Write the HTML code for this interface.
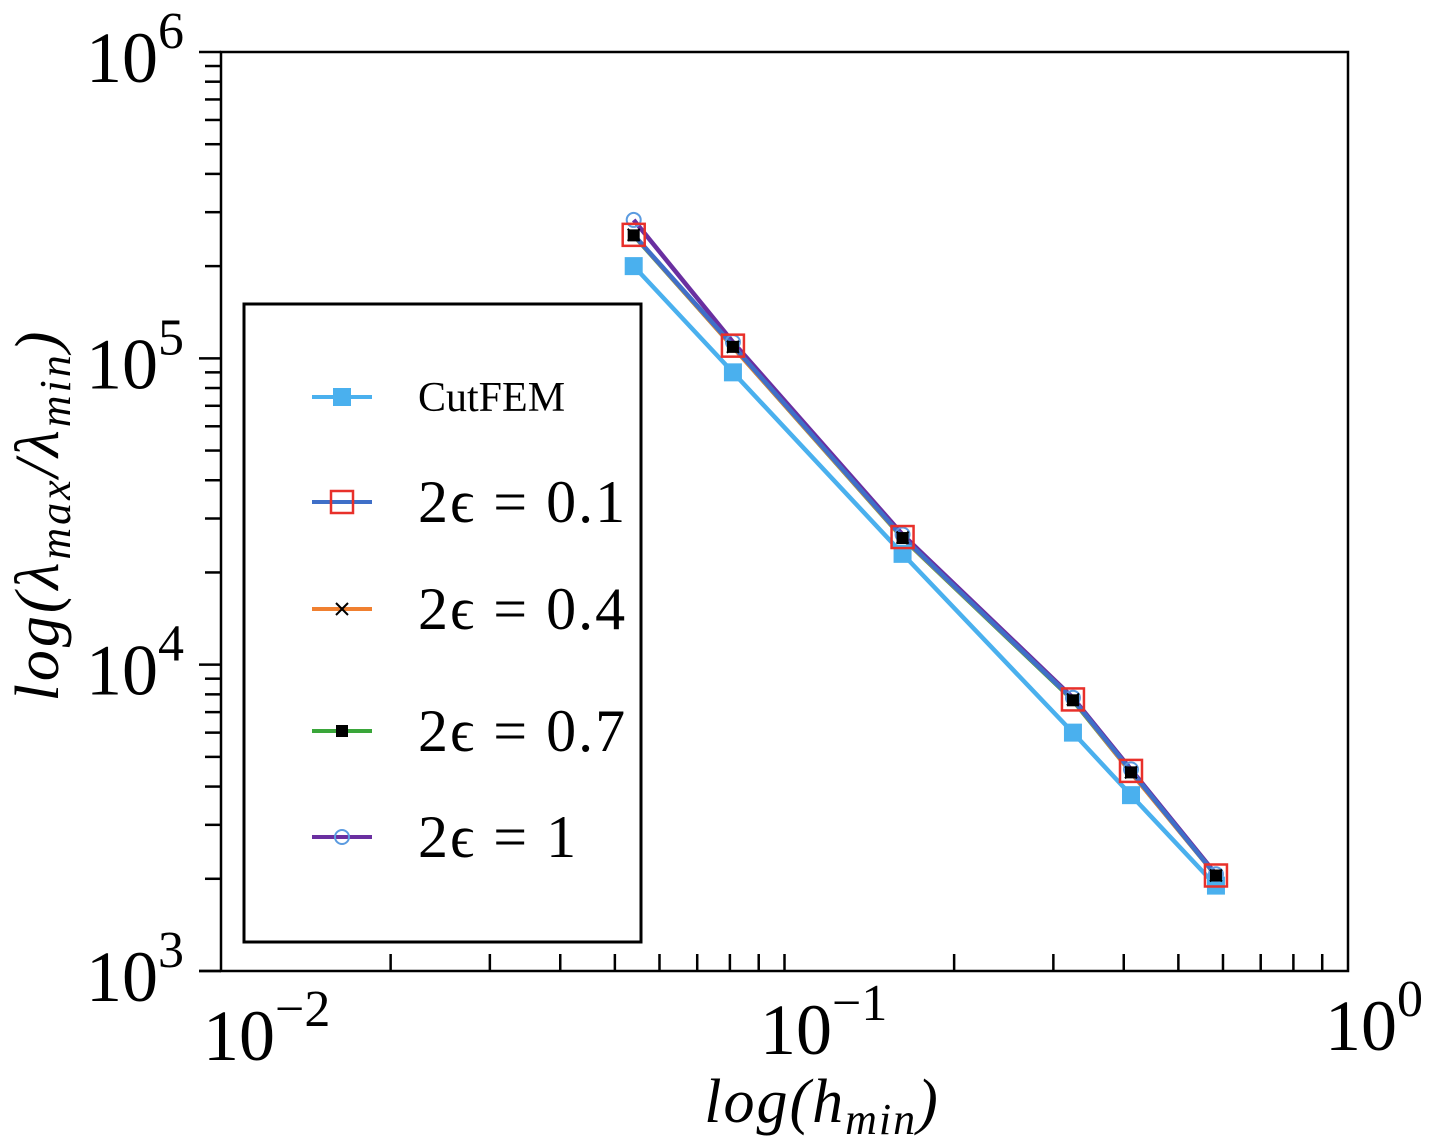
<!DOCTYPE html>
<html><head><meta charset="utf-8"><style>
body{margin:0;background:#fff}
svg{display:block}
text{font-family:"Liberation Serif",serif;fill:#000}
</style></head><body>
<svg id="chart" width="1442" height="1148">
<g id="axes"></g>
<g id="series"></g>
<g id="legend">
<rect x="244" y="304" width="397" height="638" fill="#fff" stroke="#000" stroke-width="3"/>
</g>
</svg>
<script>
const xVals=[0.054,0.081,0.162,0.325,0.412,0.583];
const cutfem=[200000,90000,23000,6000,3750,1900];
const eps01=[253000,110000,26100,7700,4500,2050];
const eps04=[253000,109000,26000,7700,4450,2050];
const eps07=[252000,109000,25900,7650,4450,2050];
const eps1=[283000,113000,26600,7800,4550,2070];
const xTickLabels=["10","10","10"],xTickExp=["−2","−1","0"];
const yTickExp=["3","4","5","6"];
const L=221,R=1348,T=52,B=971;
const X=v=>L+(Math.log10(v)+2)/2*(R-L);
const Y=v=>B-(Math.log10(v)-3)/3*(B-T);
const NS="http://www.w3.org/2000/svg";
function mk(tag,attrs,parent){const e=document.createElementNS(NS,tag);for(const k in attrs)e.setAttribute(k,attrs[k]);parent.appendChild(e);return e;}
const ax=document.getElementById('axes');
let sp=mk('path',{d:`M${L},${T}H${R}V${B}H${L}Z`,fill:'none',stroke:'#000','stroke-width':2.5},ax);


for(let d=3;d<=6;d++){
 for(let m=1;m<=9;m++){
  if(d===6&&m>1)break;
  const y=Y(m*Math.pow(10,d));
  const t=mk('line',{x1:m===1?199:205,x2:L,y1:y,y2:y,stroke:'#000','stroke-width':2.5},ax);
  
  
 }
 const lab=mk('text',{x:86,y:Y(Math.pow(10,d))+30,'font-size':72},ax);
 
 
 lab.textContent='10';
 const sup=mk('tspan',{dy:-34,'font-size':52},lab);sup.textContent=yTickExp[d-3];
}
for(let d=-2;d<=0;d++){
 for(let m=1;m<=9;m++){
  if(d===0&&m>1)break;
  const x=X(m*Math.pow(10,d));
  if(m===1&&d!==-1)continue;
  const t=mk('line',{x1:x,x2:x,y1:B-17,y2:B,stroke:'#000','stroke-width':2.5},ax);
  
  
 }
}
mk('line',{x1:199,x2:L,y1:B,y2:B,stroke:'#000','stroke-width':2.5},ax);
const xl=[[203,1060],[760,1054],[1325,1050]];
xl.forEach((p,i)=>{const lab=mk('text',{x:p[0],y:p[1],'font-size':72},ax);
 
 
 lab.textContent=xTickLabels[i];const s=mk('tspan',{dy:-34,'font-size':52},lab);s.textContent=xTickExp[i];});
let xt=mk('text',{x:822,y:1122,'font-size':62,'text-anchor':'middle','font-style':'italic','letter-spacing':2},ax);


xt.innerHTML='log(h<tspan font-size="44" dy="12">min</tspan><tspan dy="-12">)</tspan>';
let yt=mk('text',{x:0,y:0,'font-size':62,'text-anchor':'middle','font-style':'italic','letter-spacing':3,transform:'translate(58,515) rotate(-90)'},ax);


yt.innerHTML='log(λ<tspan font-size="44" dy="12">max</tspan><tspan dy="-12">/λ</tspan><tspan font-size="44" dy="12">min</tspan><tspan dy="-12">)</tspan>';
const sg=document.getElementById('series');
function line(vals,color,name){const d=vals.map((v,i)=>(i?'L':'M')+X(xVals[i])+','+Y(v)).join('');
 const p=mk('path',{d,fill:'none',stroke:color,'stroke-width':4.5},sg);
 
 }
function marker(type,x,y,g){
 let e;
 if(type==='sq') e=mk('rect',{x:x-9,y:y-9,width:18,height:18,fill:'#4ab0ee'},g);
 else if(type==='osq') e=mk('rect',{x:x-11,y:y-11,width:22,height:22,fill:'none',stroke:'#e8302a','stroke-width':2.5},g);
 else if(type==='x') e=mk('path',{d:`M${x-6},${y-6}L${x+6},${y+6}M${x-6},${y+6}L${x+6},${y-6}`,stroke:'#000','stroke-width':2},g);
 else if(type==='bsq') e=mk('rect',{x:x-6,y:y-6,width:12,height:12,fill:'#000'},g);
 else e=mk('circle',{cx:x,cy:y,r:7,fill:'none',stroke:'#5b9be0','stroke-width':2},g);
 return e;}
line(cutfem,'#4ab0ee','line-cutfem');
line(eps1,'#6a2fa0','line-eps-1');
line(eps07,'#3aa63a','line-eps-0.7');
line(eps04,'#f08030','line-eps-0.4');
line(eps01,'#3f6fc8','line-eps-0.1');
const sets=[[cutfem,'sq','point-cutfem'],[eps1,'o','point-eps-1'],[eps07,'bsq','point-eps-0.7'],[eps04,'x','point-eps-0.4'],[eps01,'osq','point-eps-0.1']];
sets.forEach(s=>s[0].forEach((v,i)=>{const m=marker(s[1],X(xVals[i]),Y(v),sg);
 
 }));
const lg=document.getElementById('legend');
const ent=[[397,'#4ab0ee','sq','CutFEM',42],[502,'#3f6fc8','osq','2ϵ =0.1',60],[609,'#f08030','x','2ϵ =0.4',60],[731,'#3aa63a','bsq','2ϵ =0.7',60],[837,'#6a2fa0','o','2ϵ =  1',60]];
ent.forEach(e=>{const g=mk('g',{},lg);
 
 
 mk('line',{x1:312,x2:372,y1:e[0],y2:e[0],stroke:e[1],'stroke-width':4},g);
 marker(e[2],342,e[0],g);
 const t=mk('text',{x:418,y:e[0]+(e[4]>45?20:14),'font-size':e[4],'xml:space':'preserve','letter-spacing':e[4]>45?2:0},g);t.textContent=e[3].replace('=',' = ').replace('  ',' ');});
</script>
</body></html>
